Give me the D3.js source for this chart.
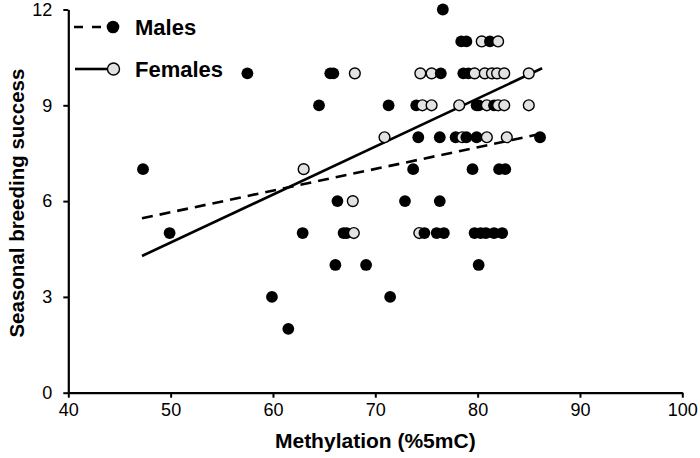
<!DOCTYPE html>
<html>
<head>
<meta charset="utf-8">
<script src="https://cdn.jsdelivr.net/npm/d3@7"></script>
<style>
  body { margin: 0; background: #fff; }
  text { font-family: "Liberation Sans", Arial, sans-serif; fill: #000; }
</style>
</head>
<body>
<div id="chart"></div>
<script>
// values
const maleX = [76.6,
  78.4, 78.9, 81.2,
  57.5, 65.6, 65.9, 76.4, 78.6, 79.1,
  64.5, 71.3, 74.0, 79.9, 80.1, 81.6,
  74.2, 76.3, 77.85, 78.9, 79.9, 86.1,
  47.3, 73.7, 79.5, 82.1, 82.7,
  66.3, 72.9, 76.3,
  49.9, 62.9, 66.9, 67.2, 74.8, 76.0, 76.7, 79.7, 80.3, 80.8, 81.6, 82.4,
  66.1, 69.1, 80.1,
  59.9, 71.45,
  61.5];
const maleY = [12,
  11, 11, 11,
  10, 10, 10, 10, 10, 10,
  9, 9, 9, 9, 9, 9,
  8, 8, 8, 8, 8, 8,
  7, 7, 7, 7, 7,
  6, 6, 6,
  5, 5, 5, 5, 5, 5, 5, 5, 5, 5, 5, 5,
  4, 4, 4,
  3, 3,
  2];
const femaleX = [80.4, 82.0,
  68.0, 74.4, 75.5, 79.7, 80.7, 81.4, 81.9, 82.6, 85.0,
  74.6, 75.5, 78.2, 80.9, 82.0, 82.6, 85.0,
  70.9, 78.5, 80.9, 82.85,
  63.0,
  67.8,
  67.9, 74.3];
const femaleY = [11, 11,
  10, 10, 10, 10, 10, 10, 10, 10, 10,
  9, 9, 9, 9, 9, 9, 9,
  8, 8, 8, 8,
  7,
  6,
  5, 5];

// fitted lines, end points
const maleTrendX = [47.2, 86.1];
const maleTrendY = [5.46, 8.10];
const femaleTrendX = [47.2, 86.3];
const femaleTrendY = [4.28, 10.16];

const xTicks = [40, 50, 60, 70, 80, 90, 100];
const yTicks = [0, 3, 6, 9, 12];

const width = 700;
const height = 458;

const svg = d3.select("#chart")
              .append("svg")
              .attr("width", width)
              .attr("height", height);

const x = d3.scaleLinear()
            .domain([40, 100])
            .range([68.3, 682.3]);

const y = d3.scaleLinear()
            .domain([0, 12])
            .range([392.7, 9.5]);

// x axis
const xAxis = svg.append("g")
                 .attr("transform", "translate(0," + y(0) + ")")
                 .call(d3.axisBottom(x)
                         .tickValues(xTicks)
                         .tickSize(5)
                         .tickPadding(6)
                         .tickSizeOuter(0));

// y axis
const yAxis = svg.append("g")
                 .attr("transform", "translate(" + x(40) + ",0)")
                 .call(d3.axisLeft(y)
                         .tickValues(yTicks)
                         .tickSize(5)
                         .tickPadding(11)
                         .tickSizeOuter(0));

[xAxis, yAxis].forEach(ax => {
  ax.select(".domain").attr("stroke", "#000").attr("stroke-width", 2.2);
  ax.selectAll(".tick line").attr("stroke", "#000").attr("stroke-width", 2);
  ax.selectAll(".tick text")
    .style("font-family", "'Liberation Sans', Arial, sans-serif")
    .style("font-size", "18px")
    .attr("fill", "#000");
});

// axis titles
svg.append("text")
   .attr("x", (x(40) + x(100)) / 2)
   .attr("y", 448)
   .attr("text-anchor", "middle")
   .style("font-size", "21px")
   .style("font-weight", "bold")
   .text("Methylation (%5mC)");

svg.append("text")
   .attr("transform", "translate(24," + ((y(0) + y(12)) / 2 + 2) + ") rotate(-90)")
   .attr("text-anchor", "middle")
   .style("font-size", "20.5px")
   .style("font-weight", "bold")
   .text("Seasonal breeding success");

// trend lines
const line = d3.line()
               .x(d => x(d[0]))
               .y(d => y(d[1]));

svg.append("path")
   .datum(maleTrendX.map((v, i) => [v, maleTrendY[i]]))
   .attr("d", line)
   .attr("fill", "none")
   .attr("stroke", "#000")
   .attr("stroke-width", 2.6)
   .attr("stroke-dasharray", "11,7");

svg.append("path")
   .datum(femaleTrendX.map((v, i) => [v, femaleTrendY[i]]))
   .attr("d", line)
   .attr("fill", "none")
   .attr("stroke", "#000")
   .attr("stroke-width", 2.6);

// points, drawn left to right so overlaps stack like the original
const points = maleX.map((v, i) => ({x: v, y: maleY[i], sex: "m"}))
                    .concat(femaleX.map((v, i) => ({x: v, y: femaleY[i], sex: "f"})))
                    .sort((a, b) => a.x - b.x);

svg.append("g")
   .selectAll("circle")
   .data(points)
   .enter()
   .append("circle")
   .attr("cx", d => x(d.x))
   .attr("cy", d => y(d.y))
   .attr("r", d => d.sex === "m" ? 5.9 : 5.4)
   .attr("fill", d => d.sex === "m" ? "#000" : "#e2e2e2")
   .attr("stroke", "#000")
   .attr("stroke-width", d => d.sex === "m" ? 0 : 1.4);

// legend
const legend = svg.append("g");

legend.append("line")
      .attr("x1", 74).attr("x2", 104)
      .attr("y1", 27).attr("y2", 27)
      .attr("stroke", "#000")
      .attr("stroke-width", 2.6)
      .attr("stroke-dasharray", "9,9");

legend.append("circle")
      .attr("cx", 113).attr("cy", 27)
      .attr("r", 6.3)
      .attr("fill", "#000");

legend.append("text")
      .attr("x", 135).attr("y", 34.5)
      .style("font-size", "22px")
      .style("font-weight", "bold")
      .text("Males");

legend.append("line")
      .attr("x1", 75).attr("x2", 107)
      .attr("y1", 69).attr("y2", 69)
      .attr("stroke", "#000")
      .attr("stroke-width", 2.6);

legend.append("circle")
      .attr("cx", 113.5).attr("cy", 69)
      .attr("r", 6)
      .attr("fill", "#e2e2e2")
      .attr("stroke", "#000")
      .attr("stroke-width", 1.4);

legend.append("text")
      .attr("x", 135).attr("y", 76.5)
      .style("font-size", "22px")
      .style("font-weight", "bold")
      .text("Females");
</script>
</body>
</html>
